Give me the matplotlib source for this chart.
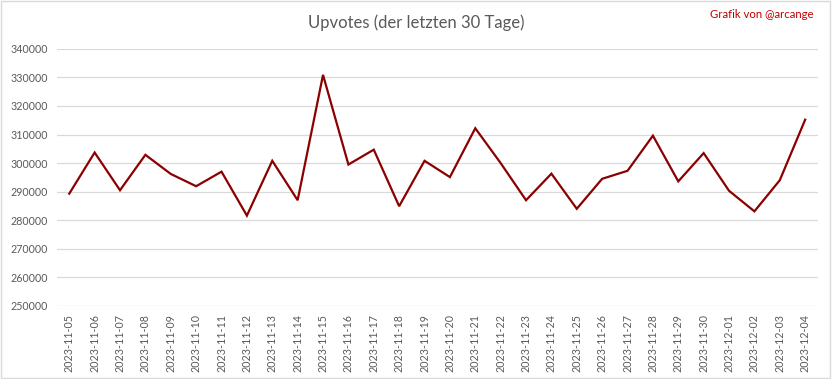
import matplotlib
matplotlib.use('Agg')
import matplotlib.pyplot as plt
from matplotlib.patches import Rectangle

plt.rcParams['font.family'] = ['Lato', 'DejaVu Sans']

dates = ['2023-11-05', '2023-11-06', '2023-11-07', '2023-11-08', '2023-11-09',
         '2023-11-10', '2023-11-11', '2023-11-12', '2023-11-13', '2023-11-14',
         '2023-11-15', '2023-11-16', '2023-11-17', '2023-11-18', '2023-11-19',
         '2023-11-20', '2023-11-21', '2023-11-22', '2023-11-23', '2023-11-24',
         '2023-11-25', '2023-11-26', '2023-11-27', '2023-11-28', '2023-11-29',
         '2023-11-30', '2023-12-01', '2023-12-02', '2023-12-03', '2023-12-04']
upvotes = [289300, 303700, 290500, 302900, 296200,
           291900, 297000, 281600, 300800, 287000,
           330900, 299500, 304700, 284900, 300800,
           295100, 312200, 300000, 287000, 296300,
           284000, 294500, 297300, 309600, 293600,
           303500, 290300, 283100, 294000, 315200]
yticks = list(range(250000, 340001, 10000))

fig = plt.figure(figsize=(8.32, 3.79), dpi=100)
ax = fig.add_axes([0.068, 0.193, 0.915, 0.678])

x = list(range(len(dates)))
ax.plot(x, upvotes, color='#8b0000', linewidth=1.6, solid_joinstyle='miter')

ax.set_xlim(-0.5, len(dates) - 0.5)
ax.set_ylim(250000, 340000)
ax.set_yticks(yticks)
ax.set_yticklabels([str(v) for v in yticks])
ax.set_xticks(x)
ax.set_xticklabels(dates, rotation=90)
ax.tick_params(axis='both', length=0, colors='#595959', labelsize=7.7)
ax.tick_params(axis='y', pad=6)
ax.tick_params(axis='x', pad=6)
ax.grid(axis='y', color='#d9d9d9', linewidth=0.9)
ax.set_axisbelow(True)
for s in ax.spines.values():
    s.set_visible(False)

fig.text(0.5, 0.94, 'Upvotes (der letzten 30 Tage)', ha='center', va='center',
         fontsize=12, color='#595959')
fig.text(0.978, 0.962, 'Grafik von @arcange', ha='right', va='center',
         fontsize=8.2, color='#c00000')

fig.patches.append(Rectangle((0.001, 0.002), 0.997, 0.995, transform=fig.transFigure,
                             fill=False, edgecolor='#d9d9d9', linewidth=1))

fig.savefig('out.png', dpi=100)
